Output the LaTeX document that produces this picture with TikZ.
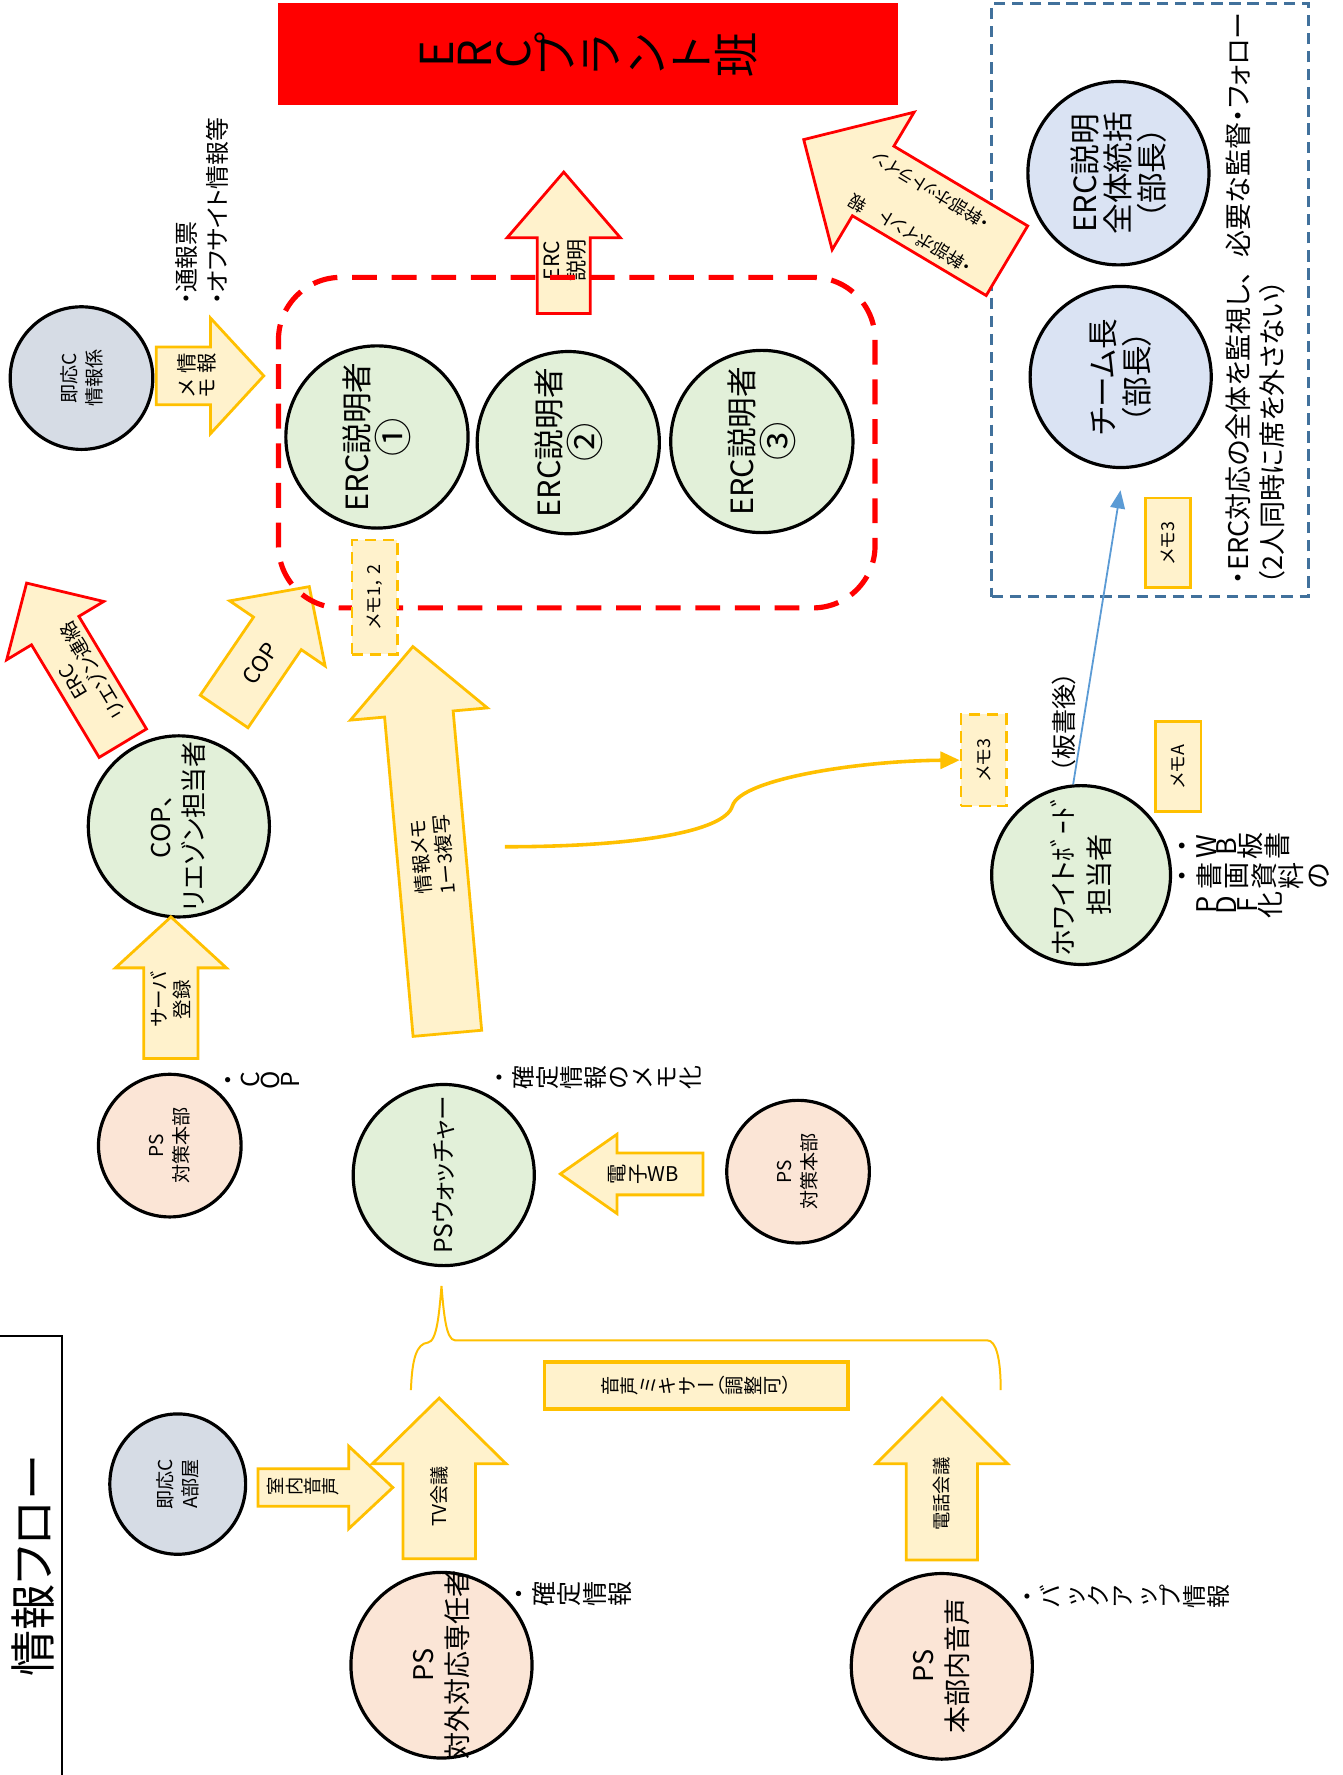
\documentclass[tikz,border=0pt]{standalone}
\usepackage{fontspec}
\setmainfont{Noto Sans CJK JP}[RawFeature=+palt]
\usepackage{graphicx}
\usetikzlibrary{arrows.meta,shapes.geometric}

\definecolor{ylw}{HTML}{FFC000}
\definecolor{ylwfill}{HTML}{FFF2CC}
\definecolor{grn}{HTML}{E2F0D9}
\definecolor{peach}{HTML}{FBE5D6}
\definecolor{pblue}{HTML}{DAE3F3}
\definecolor{gblue}{HTML}{D6DCE5}
\definecolor{steel}{HTML}{41719C}
\definecolor{lblue}{HTML}{5B9BD5}

% font size in pt with baseline skip
\newcommand\fs[2]{\fontsize{#1pt}{#2pt}\selectfont}
% one glyph turned a quarter turn, in a slot of given width
\newcommand\tg[2][1em]{\makebox[#1]{\rotatebox[origin=c]{90}{\makebox[1em]{\rule[-.12em]{0pt}{1em}#2}}}}
\ExplSyntaxOn
\NewDocumentCommand\tateline{O{1em}m}{\tl_map_inline:nn{#2}{\tg[#1]{##1}}}
\ExplSyntaxOff
% enclosed numbers set a little larger
\newcommand\encl[1]{\scalebox{1.25}{#1}}

% block arrow: style, name, tail centre, angle, length, shaft half width, head half width, head length
\newcommand\blockarrow[8]{%
  \begin{scope}[shift={#3}, rotate=#4]
    \draw[#1] (0,-#6) -- ({#5-#8},-#6) -- ({#5-#8},-#7) -- (#5,0) -- ({#5-#8},#7) -- ({#5-#8},#6) -- (0,#6) -- cycle;
    \coordinate (#2) at ({(#5-#8)/2},0);
  \end{scope}}

\tikzset{
  bub/.style={ellipse, draw=black, line width=0.8pt, inner sep=0pt},
  yarrow/.style={draw=ylw, fill=ylwfill, line width=0.7pt},
  rarrow/.style={draw=red, fill=ylwfill, line width=0.7pt},
  memobox/.style={draw=ylw, fill=ylwfill, line width=0.7pt, inner sep=0pt},
  memodash/.style={memobox, dashed, dash pattern=on 1mm off 0.6mm},
  lbl/.style={inner sep=0pt, align=center, text=black},
}

\begin{document}
\begin{tikzpicture}[x=0.1mm, y=-0.1mm]
\fill[white] (0,0) rectangle (1186,1568);
\useasboundingbox (0,0) rectangle (1186,1568);

% ---- title frame
\draw[line width=0.6pt] (0,1180) -- (55,1180) -- (55,1568);
\node[lbl, rotate=90, font=\fs{11.6}{12}] (title) at (29,1383) {情報フロー};

% ---- ERC plant team banner
\node[fill=red, minimum width=54.7mm, minimum height=9mm, inner sep=0pt] (plant) at (519.5,48)
  {\fs{11.4}{12}\tateline[.85em]{ERC}\tateline{プラント班}};

% ---- supervisors
\node[draw=steel, dashed, dash pattern=on 1mm off .6mm, line width=0.6pt, minimum width=28mm, minimum height=52.4mm, inner sep=0pt] (sup) at (1016,265) {};
\node[bub, fill=pblue, minimum width=16mm, minimum height=16.2mm] (chief) at (988,153) {};
\node[lbl, rotate=90, font=\fs{7.7}{8.5}] (chief-t) at (chief) {ERC説明\\全体統括\\（部長）};
\node[bub, fill=pblue, minimum size=16mm] (tl) at (990,333) {};
\node[lbl, rotate=90, font=\fs{7.7}{8.5}] (tl-t) at (tl) {チーム長\\（部長）};
\node[lbl, rotate=90, anchor=north west, align=left, font=\fs{6.8}{8.5}] (duty) at (1082,517)
  {・ERC対応の全体を監視し、\hspace{.5em}必要な監督・フォロー\\（2人同時に席を外さない）};
\node[memobox, minimum width=4mm, minimum height=7.9mm] (memo3b) at (1032,479.5) {\rotatebox{90}{\fs{4.5}{5}メモ3}};

% ---- report arrow towards the plant team
\blockarrow{rarrow}{aTop}{(889.5,230.3)}{149.2}{209}{35.8}{70.7}{71.4}
\node[lbl, rotate=149.2, anchor=west, font=\fs{4.4}{5}] (top1) at (874,199) {・幹部ホットライン};
\node[lbl, rotate=149.2, anchor=west, font=\fs{4.4}{5}] (top2) at (858,238) {・幹部ポイント};
\node[lbl, rotate=149.2, font=\fs{4.4}{5}] (top3) at (758,180) {報};

% ---- explanation arrow and explainers
\blockarrow{rarrow}{aErc}{(498,277)}{90}{125}{23.5}{50}{58}
\node[lbl, rotate=90, font=\fs{5.3}{6.2}] (aErc-t) at (499,230) {ERC\\説明};

\blockarrow{yarrow}{aCop}{(198,628.5)}{55.7}{133.5}{25.5}{51}{50}
\node[lbl, rotate=55.7, font=\fs{5.6}{6}] (aCop-t) at (230,586) {COP};

\foreach \n/\x/\y/\m in {1/333/386/①, 2/502/391/②, 3/673/390/③} {
  \node[bub, fill=grn, minimum size=16.1mm] (erc\n) at (\x,\y) {};
  \node[lbl, rotate=90, font=\fs{7.7}{8.7}] (erc\n-t) at (erc\n) {ERC説明者\\\encl{\m}};
}
\node[draw=red, dashed, dash pattern=on 2.2mm off 1.3mm, line width=1.3pt, rounded corners=5.5mm,
      minimum width=52.7mm, minimum height=29.2mm, inner sep=0pt] (grp) at (509.5,391) {};
\node[memodash, minimum width=4mm, minimum height=10.1mm] (m12) at (331,527.5) {\rotatebox{90}{\fs{4.5}{5}メモ1，\,2}};

% ---- emergency centre information desk
\node[bub, fill=gblue, minimum size=12.6mm] (jinfo) at (72,334) {};
\node[lbl, rotate=90, font=\fs{4.8}{6.3}] (jinfo-t) at (jinfo) {即応C\\情報係};
\node[lbl, rotate=90, anchor=north west, align=left, font=\fs{6}{8}] (notes1) at (154,270) {・通報票\\・オフサイト情報等};
\blockarrow{yarrow}{aMemo}{(138,332)}{0}{95}{25.5}{51}{47}
\node[lbl, font=\fs{5.1}{6.3}] (aMemo-t) at (174,332) {\tateline{情報}\\\tateline{メモ}};

% ---- COP / liaison
\node[bub, fill=grn, minimum size=16mm] (cop) at (158,730) {};
\node[lbl, rotate=90, font=\fs{6.5}{8.3}] (cop-t) at (cop) {COP、\\リエゾン担当者};
\blockarrow{rarrow}{aLiaison}{(108.5,656.5)}{121}{165}{24.4}{50}{49}
\node[lbl, rotate=121, font=\fs{4.9}{5.7}] (aLiaison-t) at (74,597) {ERC\\リエゾン連絡};
\blockarrow{yarrow}{aServer}{(151,935)}{90}{125}{24}{49}{45}
\node[lbl, rotate=90, font=\fs{4.9}{5.9}] (aServer-t) at (151,883) {サーバ\\登録};

\node[bub, fill=peach, minimum size=12.6mm] (hq1) at (150,1012) {};
\node[lbl, rotate=90, font=\fs{4.8}{6.3}] (hq1-t) at (hq1) {PS\\対策本部};
\node[lbl, anchor=west, font=\fs{6.2}{7}] (hq1-n) at (190,954) {\tateline{・}\tateline[.8em]{COP}};

% ---- information memo flow
\blockarrow{yarrow}{aInfo}{(395.2,912.8)}{95.1}{343}{30.4}{60.7}{59.8}
\node[lbl, rotate=95.1, font=\fs{4.9}{6}] (aInfo-t) at (382,756) {情報メモ\\1ー3複写};
\coordinate (memoOut) at (446,748);
\node[memodash, minimum width=4mm, minimum height=8.1mm] (m3d) at (869,671.5) {\rotatebox{90}{\fs{4.5}{5}メモ3}};
\draw[ylw, line width=0.9pt, -{Triangle[length=1.7mm,width=1.5mm]}] (memoOut)
  .. controls (560,748) and (640,735) .. (647,712)
  .. controls (654,688) and (760,672) .. (m3d.west);

% ---- whiteboard
\node[bub, fill=grn, minimum size=15.8mm] (wb) at (955,773) {};
\node[lbl, rotate=90, font=\fs{6.8}{9}] (wb-t) at (wb) {ホワイトﾎﾞｰﾄﾞ\\担当者};
\node[lbl, rotate=90, font=\fs{6.3}{7}] (after) at (940,638) {（板書後）};
\node[memobox, minimum width=4mm, minimum height=8mm] (memoA) at (1041,677) {\rotatebox{90}{\fs{4.5}{5}メモA}};
\node[lbl, anchor=north west, align=left, font=\fs{6.8}{7.4}] (wb-n) at (1032,735)
  {\tateline{・}\tateline[.75em]{WB}\tateline{板書}\\\tateline{・書画資料の}\\\hspace*{1em}\tateline[.75em]{PDF}\tateline{化}};
\draw[lblue, line width=0.45pt, shorten >=1.9mm, -{Triangle[length=1.6mm,width=1.3mm]}] (wb.95) -- (tl.272);

% ---- PS watcher
\node[bub, fill=grn, minimum size=16mm] (psw) at (392,1038) {};
\node[lbl, rotate=90, font=\fs{6.2}{7}] (psw-t) at (psw) {PSウォッチャー};
\node[lbl, anchor=west, font=\fs{6}{7}] (psw-n) at (430,952) {\tateline{・確定情報のメモ化}};
\blockarrow{yarrow}{aEwb}{(621,1037)}{180}{126}{18.5}{35}{50}
\node[lbl, font=\fs{5.1}{6}] (aEwb-t) at (568,1037) {\tateline{電子}WB};
\node[bub, fill=peach, minimum size=12.6mm] (hq2) at (705,1035) {};
\node[lbl, rotate=90, font=\fs{4.8}{6.3}] (hq2-t) at (hq2) {PS\\対策本部};

% ---- audio brace and mixer
\draw[ylw, line width=0.5pt] (363,1228) .. controls (364,1200) and (368,1187) .. (378,1186)
  .. controls (386,1185) and (388,1160) .. (390,1136)
  .. controls (392,1160) and (394,1184) .. (402,1184) -- (872,1184)
  .. controls (880,1184) and (884,1200) .. (884,1228);
\node[memobox, line width=1pt, minimum width=26.8mm, minimum height=4.2mm] (mixer) at (615,1224)
  {\fs{4.8}{6}\tateline{音声ミキサ}ー（\tateline{調整可}）};

% ---- bottom sources
\blockarrow{yarrow}{aTv}{(388,1377)}{90}{142}{32}{59}{58}
\node[lbl, rotate=90, font=\fs{4.8}{6}] (aTv-t) at (388,1322) {TV会議};
\blockarrow{yarrow}{aRoom}{(228,1314)}{0}{119}{16.5}{36.5}{39}
\node[lbl, font=\fs{4.6}{6}] (aRoom-t) at (268,1313) {\tateline{室内音声}};
\node[bub, fill=gblue, minimum width=12mm, minimum height=12.4mm] (room) at (157,1311) {};
\node[lbl, rotate=90, font=\fs{4.8}{6.3}] (room-t) at (room) {即応C\\A部屋};

\node[bub, fill=peach, minimum width=16mm, minimum height=16.4mm] (ext) at (390,1471) {};
\node[lbl, rotate=90, font=\fs{6.8}{8.5}] (ext-t) at (ext) {PS\\対外対応専任者};
\node[lbl, anchor=west, font=\fs{6.3}{7}] (ext-n) at (447,1408) {\tateline{・確定情報}};

\blockarrow{yarrow}{aTel}{(832,1378)}{90}{143}{31.5}{58}{58}
\node[lbl, rotate=90, font=\fs{4.6}{6}] (aTel-t) at (832,1320) {電話会議};
\node[bub, fill=peach, minimum width=16mm, minimum height=16.4mm] (int) at (832,1472) {};
\node[lbl, rotate=90, font=\fs{6.8}{8.5}] (int-t) at (int) {PS\\本部内音声};
\node[lbl, anchor=west, font=\fs{6}{7}] (int-n) at (896,1410) {\tateline{・バックアップ情報}};
\end{tikzpicture}
\end{document}
